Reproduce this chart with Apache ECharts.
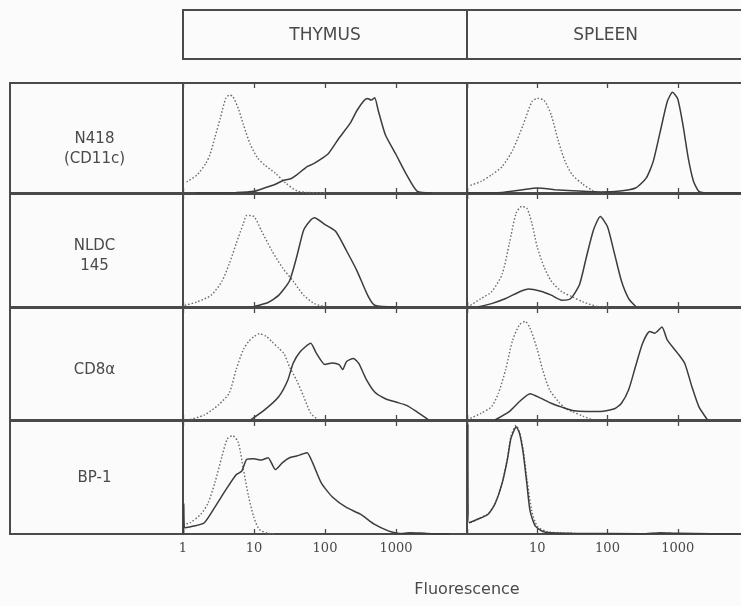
<!DOCTYPE html>
<html><head><meta charset="utf-8">
<script src="https://cdn.jsdelivr.net/npm/echarts@6/dist/echarts.min.js"></script>
<style>html,body{margin:0;padding:0;background:#fbfbfb}#c{width:741px;height:606px}</style>
</head><body><div id="c"></div>
<script>
// ---------- data ----------
const columns = ['THYMUS', 'SPLEEN'];
const rowLabels = ['N418\n(CD11c)', 'NLDC\n145', 'CD8α', 'BP-1'];
const thymusTickLabels = ['1', '10', '100', '1000'];
const spleenTickLabels = ['10', '100', '1000'];
const axisTitle = 'Fluorescence';

// [fluorescence, relative cell number] ; control = dotted, stained = solid
const thymusN418Control = [[1.12,10],[1.58,16.5],[2.1,27],[2.4,35],[2.8,50],[3.35,68],[4.0,86],[4.5,89],[5.0,88],[6.0,77],[7.1,62],[8.9,44],[11.2,32],[14.1,25.5],[20,18],[28,9],[40,2],[56,0.5],[100,0]];
const thymusN418Stained = [[1.5,0],[5.6,0.5],[10,1.5],[14,4.5],[20,8],[24,10.5],[28,12],[33,13],[40,16.5],[56,24],[66,26],[79,29],[112,36],[158,50],[224,63],[282,75],[355,84],[398,86],[447,84.5],[501,86.5],[562,75],[708,53],[1000,35],[1413,16.5],[1995,1.5],[3162,0]];
const spleenN418Control = [[1.12,7],[1.58,10.5],[2.24,16.5],[3.16,24],[4.47,39],[6.3,62],[8.4,83],[10,86],[12.6,84],[15.8,71],[20,47],[25,28.5],[31.6,16.5],[44.7,8],[63,2],[89,0]];
const spleenN418Stained = [[1,0],[3.16,0.5],[6.3,3],[10,4.5],[17.8,3],[31.6,2],[79,1],[141,1.5],[251,4.5],[355,13.5],[447,28.5],[562,55.5],[708,83],[841,91.5],[1000,85.5],[1189,61.5],[1413,31.5],[1679,10.5],[1995,1.5],[2512,0],[10000,0]];

const thymusNLDCControl = [[1.06,1.5],[1.58,4.5],[2.5,10.5],[3.55,23],[4.47,38],[5.6,56],[7.1,74],[7.9,81],[10,80],[12.6,68],[17.8,50],[25,35],[35.5,23],[50,10.5],[71,3],[100,0.3]];
const thymusNLDCStained = [[10,0.5],[15.8,4],[22.4,10.5],[31.6,23],[39.8,44],[50,68],[63,77],[71,79],[100,73],[141,67],[200,50],[282,32],[398,10.5],[501,1.5],[1000,0]];
const spleenNLDCControl = [[1.12,1.5],[1.58,7.5],[2.24,13.5],[3.16,29],[4.0,56],[5.0,83],[6.0,89],[7.1,87.5],[8.4,74],[10,53],[12.6,35],[15.8,23],[22.4,13.5],[31.6,9],[44.7,4.5],[71,0.6],[100,0]];
const spleenNLDCStained = [[1.41,0],[2.24,3],[3.55,7.5],[5.6,13.5],[7.5,16],[11.2,14],[15.8,10.5],[22.4,6],[30,7.5],[40,20],[50,44],[63,68],[79,80],[100,71],[126,47],[158,23],[200,7.5],[251,0.6]];

const thymusCD8Control = [[1.26,0.5],[2.0,4.5],[3.16,13.5],[4.47,24],[5.6,45],[7.1,63],[8.4,70],[10,74.5],[11.9,77],[15,74.5],[17.8,70],[22.4,64],[26.6,59],[31.6,47.5],[39.8,35.5],[50,21],[63,6],[79,0.5]];
const thymusCD8Stained = [[8.9,0],[14.1,9],[22.4,21],[29.9,35.5],[35.5,50.5],[44.7,61],[63,68.5],[75,60],[100,49.5],[126,51],[158,49.5],[178,45],[200,52],[251,55],[299,50.5],[376,37],[501,25],[708,19],[1000,16],[1413,13],[1995,7],[2818,0.5]];
const spleenCD8Control = [[1.12,1.5],[1.58,6],[2.24,12],[2.8,24],[3.55,45],[4.47,71.5],[5.6,85],[6.7,88],[7.9,82],[10,63],[11.9,45],[15,27],[20,16.5],[25,10.5],[31.6,7.5],[44.7,3.5],[63,0]];
const spleenCD8Stained = [[2.5,0],[4.0,7.5],[5.6,16.5],[7.9,23.5],[11.2,19.5],[15.8,15],[22.4,11.5],[31.6,8.5],[50,7.5],[79,7.5],[126,10],[158,15],[200,27],[251,48],[316,68.5],[398,79],[473,77.5],[596,83],[708,71.5],[1000,59.5],[1259,50.5],[1585,30],[1995,12],[2661,0]];

const thymusBP1Control = [[1.0,8.5],[1.26,10],[1.78,17.5],[2.24,27],[2.8,45],[3.55,69],[4.2,84],[5.0,87],[6.0,81],[7.1,57],[8.4,33],[10,14.5],[11.9,4],[15.8,0.6],[20,0]];
const thymusBP1Stained = [[1.02,0],[1.025,27],[1.07,5.5],[1.41,7],[2.0,10],[2.8,23.5],[4.0,39],[5.6,52.5],[6.7,55.5],[7.9,66],[10,66.5],[12.6,65.5],[15.8,67.5],[20,57],[25,63],[31.6,67.5],[39.8,69],[47,70.5],[56,72],[67,63],[89,45],[126,33],[200,23.5],[316,17.5],[501,8.5],[794,2.5],[1000,1],[1259,0.5],[1585,1.2],[2239,0.8],[3162,0.3],[5623,0]];
const spleenBP1Control = [[1.12,10],[1.41,13],[2.0,18],[2.5,27],[3.16,45],[3.76,67],[4.2,86],[5.0,96],[5.6,90],[6.3,75],[7.1,50],[8.4,20],[10,7],[14,2],[31.6,0.5],[100,0]];
const spleenBP1Stained = [[1.03,97],[1.07,10],[1.41,13],[2.0,17.5],[2.5,26.5],[3.16,45],[3.76,66],[4.2,84],[4.7,92],[5.0,95],[5.6,89],[6.3,72],[7.1,45],[7.9,20.5],[9.4,7],[12.6,1.8],[31.6,0.6],[316,0.3],[562,1.2],[1000,0.6],[10000,0]];

const panelData = [
  [[thymusN418Control, thymusN418Stained], [spleenN418Control, spleenN418Stained]],
  [[thymusNLDCControl, thymusNLDCStained], [spleenNLDCControl, spleenNLDCStained]],
  [[thymusCD8Control, thymusCD8Stained], [spleenCD8Control, spleenCD8Stained]],
  [[thymusBP1Control, thymusBP1Stained], [spleenBP1Control, spleenBP1Stained]]
];

// ---------- layout ----------
const INK = '#4a4a4a';
const colLeft = [183, 467];
const colWidth = [284, 281];
const rowTop = [83, 194, 308, 421];
const rowHeight = [110, 113, 112, 113];
const labelLeft = 10;
const headerTop = 10, headerH = 49;
const FONT = '"DejaVu Sans", sans-serif';

const grids = [], xAxes = [], yAxes = [], series = [];
let gi = 0;
for (let r = 0; r < 4; r++) {
  for (let c = 0; c < 2; c++) {
    grids.push({
      left: colLeft[c], top: rowTop[r], width: colWidth[c], height: rowHeight[r],
      show: true, borderColor: INK, borderWidth: 2, backgroundColor: 'transparent',
      containLabel: false, outerBoundsMode: 'none'
    });
    const isBottom = r === 3;
    const labels = c === 0 ? thymusTickLabels : spleenTickLabels;
    xAxes.push({
      gridIndex: gi, type: 'log', logBase: 10, min: 1, max: 10000, position: 'bottom',
      axisLine: { show: false },
      axisTick: { show: true, inside: true, length: 5, lineStyle: { color: INK, width: 1.3 } },
      splitLine: { show: false },
      axisLabel: {
        show: isBottom, margin: 8, color: INK, fontSize: 13,
        fontFamily: '"DejaVu Serif", "Liberation Serif", serif',
        formatter: v => { const s = String(Math.round(v)); return labels.includes(s) ? s : ''; }
      }
    });
    xAxes.push({
      gridIndex: gi, type: 'log', logBase: 10, min: 1, max: 10000, position: 'top',
      axisLine: { show: false },
      axisTick: { show: true, inside: true, length: 5, lineStyle: { color: INK, width: 1.3 } },
      splitLine: { show: false }, axisLabel: { show: false }
    });
    yAxes.push({ gridIndex: gi, type: 'value', min: 0, max: 100, show: false, splitLine: { show: false } });
    const [ctrl, stain] = panelData[r][c];
    series.push({
      type: 'line', xAxisIndex: gi * 2, yAxisIndex: gi, data: ctrl, symbol: 'none', smooth: 0.25,
      lineStyle: { color: '#6a6a6a', width: 1.4, type: [1.5, 2] }, z: 3, silent: true
    });
    series.push({
      type: 'line', xAxisIndex: gi * 2, yAxisIndex: gi, data: stain, symbol: 'none', smooth: 0.2,
      lineStyle: { color: '#3c3c3c', width: 1.5 }, z: 4, silent: true
    });
    gi++;
  }
}

const graphics = [];
// header boxes
graphics.push({ type: 'rect', shape: { x: colLeft[0], y: headerTop, width: 741 - colLeft[0] + 10, height: headerH },
  style: { fill: 'none', stroke: INK, lineWidth: 2 } });
graphics.push({ type: 'line', shape: { x1: colLeft[1], y1: headerTop, x2: colLeft[1], y2: headerTop + headerH },
  style: { stroke: INK, lineWidth: 2 } });
columns.forEach((t, c) => {
  graphics.push({ type: 'text', style: { text: t, x: colLeft[c] + colWidth[c] / 2 + (c === 1 ? -2 : 0), y: headerTop + headerH / 2 + 1,
    align: 'center', verticalAlign: 'middle', font: '17px ' + FONT, fill: INK } });
});
// row label cells
const labelOffsets = [11, 6, 6, 1];
rowLabels.forEach((t, r) => {
  graphics.push({ type: 'rect', shape: { x: labelLeft, y: rowTop[r], width: colLeft[0] - labelLeft, height: rowHeight[r] },
    style: { fill: 'none', stroke: INK, lineWidth: 2 } });
  graphics.push({ type: 'text', style: { text: t, x: (labelLeft + colLeft[0]) / 2 - 2, y: rowTop[r] + rowHeight[r] / 2 + labelOffsets[r],
    align: 'center', verticalAlign: 'middle', font: '15px ' + FONT, lineHeight: 20, fill: INK } });
});
// axis title
graphics.push({ type: 'text', style: { text: axisTitle, x: colLeft[1], y: 590, align: 'center', verticalAlign: 'middle',
  font: '16px ' + FONT, fill: INK } });

const chart = echarts.init(document.getElementById('c'), null, { renderer: 'canvas' });
chart.setOption({
  backgroundColor: '#fbfbfb',
  animation: false,
  grid: grids, xAxis: xAxes, yAxis: yAxes, series: series, graphic: graphics
});
</script></body></html>
